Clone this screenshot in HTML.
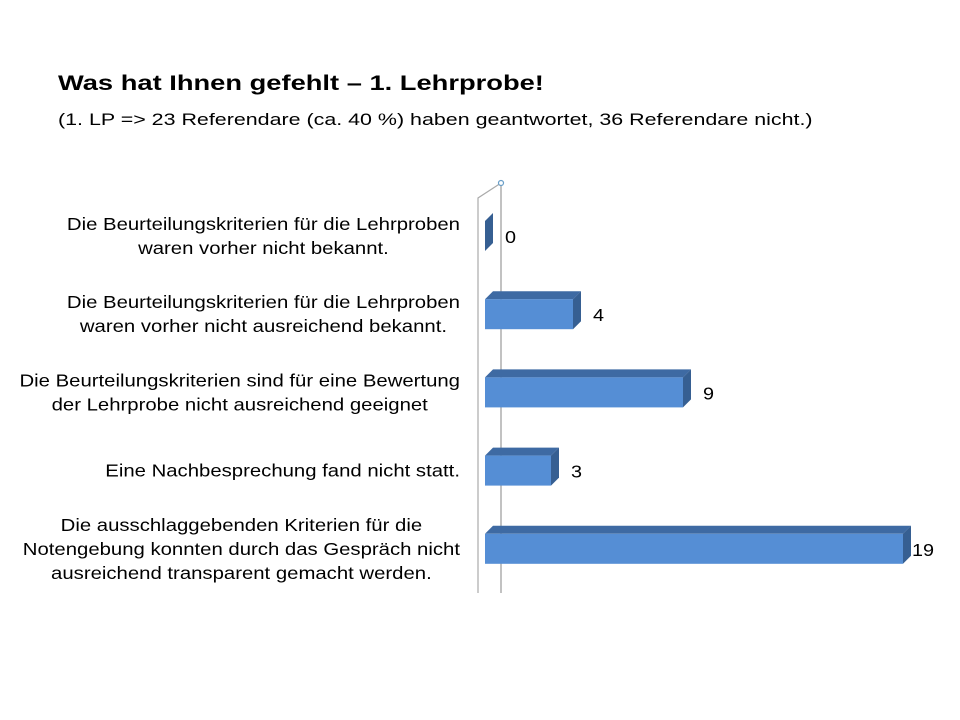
<!DOCTYPE html>
<html><head><meta charset="utf-8"><style>
body{margin:0;background:#fff;width:960px;height:720px;overflow:hidden;font-family:"Liberation Sans",Arial,sans-serif}
#title{position:absolute;left:58px;top:72px;font-size:21px;font-weight:bold;color:#000;transform:scaleX(1.3);transform-origin:0 0;white-space:nowrap}
#sub{position:absolute;left:58px;top:110px;font-size:17px;color:#000;transform:scaleX(1.26);transform-origin:0 0;white-space:nowrap}
svg{position:absolute;left:0;top:0}
</style></head><body>
<div id="title">Was hat Ihnen gefehlt – 1. Lehrprobe!</div>
<div id="sub">(1. LP =&gt; 23 Referendare (ca. 40 %) haben geantwortet, 36 Referendare nicht.)</div>
<svg id="chart" width="960" height="720"></svg>
<script>
const categories=[
["Die Beurteilungskriterien für die Lehrproben","waren vorher nicht bekannt."],
["Die Beurteilungskriterien für die Lehrproben","waren vorher nicht ausreichend bekannt."],
["Die Beurteilungskriterien sind für eine Bewertung","der Lehrprobe nicht ausreichend geeignet"],
["Eine Nachbesprechung fand nicht statt."],
["Die ausschlaggebenden Kriterien für die","Notengebung konnten durch das Gespräch nicht","ausreichend transparent gemacht werden."]];
const values=[0,4,9,3,19];
const NS="http://www.w3.org/2000/svg";
const svg=document.getElementById('chart');
const x0=485,unit=22,D=8,barH=30;
function xs(v){return x0+v*unit;}
function yc(i){return 236+i*78.2;}
function mk(t,a){const e=document.createElementNS(NS,t);for(const k in a)e.setAttribute(k,a[k]);svg.appendChild(e);return e;}
let ax=mk('line',{x1:501,y1:183,x2:501,y2:593,stroke:'#999','stroke-width':1.2});

let af=mk('polyline',{points:'478,593 478,198 501,183',fill:'none',stroke:'#aaa','stroke-width':1.2});

let c=mk('circle',{cx:501,cy:183,r:2.5,fill:'#fff',stroke:'#6a9fc8','stroke-width':1.2});

const SX=1.13;
values.forEach((v,i)=>{
 const cy=yc(i),top=cy-barH/2,bot=cy+barH/2,xr=xs(v);
 const g=mk('g',{});
 
 
 const tp=document.createElementNS(NS,'polygon');
 tp.setAttribute('points',`${x0},${top} ${x0+D},${top-D} ${xr+D},${top-D} ${xr},${top}`);
 tp.setAttribute('fill','#3e6aa3');g.appendChild(tp);
 const sd=document.createElementNS(NS,'polygon');
 sd.setAttribute('points',`${xr},${top} ${xr+D},${top-D} ${xr+D},${bot-D} ${xr},${bot}`);
 sd.setAttribute('fill','#365f92');g.appendChild(sd);
 if(v>0){const fr=document.createElementNS(NS,'rect');
 fr.setAttribute('x',x0);fr.setAttribute('y',top);fr.setAttribute('width',xr-x0);fr.setAttribute('height',barH);
 fr.setAttribute('fill','#558ed5');g.appendChild(fr);}
 const lx=xr+D+(v>=10?1:12);
 const lb=mk('text',{x:lx,y:cy+7,'font-size':18,fill:'#000',transform:`translate(${lx},0) scale(1.1,1) translate(${-lx},0)`});
 lb.textContent=v;
 
 const lines=categories[i];
 const t=mk('text',{'text-anchor':'end','font-size':18,fill:'#000',transform:`translate(460,0) scale(${SX},1) translate(-460,0)`});
 
 lines.forEach((s,j)=>{const ts=document.createElementNS(NS,'tspan');
  ts.setAttribute('x',460);
  ts.setAttribute('y',cy+6+(j-(lines.length-1)/2)*24);ts.textContent=s;t.appendChild(ts);});
});
svg.querySelectorAll('text[text-anchor="end"]').forEach(t=>{
 const ts=[...t.children];if(ts.length<2)return;
 const w=ts.map(s=>s.getComputedTextLength());const mw=Math.max(...w);
 ts.forEach((s,k)=>{s.setAttribute('x',460-(mw-w[k])/2);});
});
</script>
</body></html>
